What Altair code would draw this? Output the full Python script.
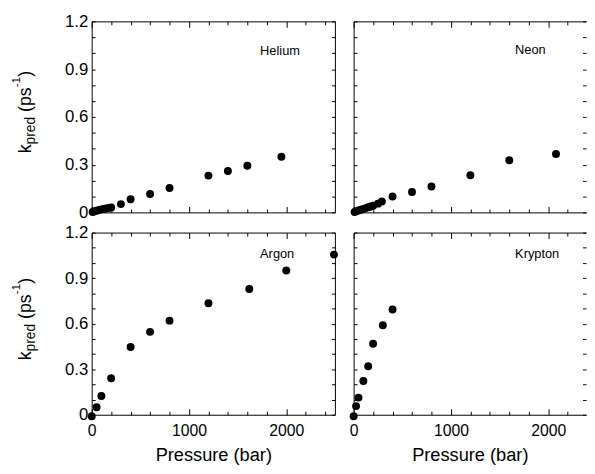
import altair as alt
import pandas as pd

FONT = "Liberation Sans"

# ---- data ----
he_p = [10, 30, 50, 75, 100, 125, 150, 175, 200, 300, 400, 600, 800, 1200, 1400, 1600, 1950]
he_k = [0.003, 0.007, 0.011, 0.015, 0.019, 0.022, 0.025, 0.028, 0.031, 0.052, 0.082, 0.115,
        0.153, 0.231, 0.26, 0.293, 0.35]

ne_p = [10, 25, 50, 75, 100, 125, 150, 175, 200, 250, 290, 400, 600, 800, 1200, 1600, 2080]
ne_k = [0.003, 0.007, 0.012, 0.017, 0.022, 0.027, 0.032, 0.037, 0.042, 0.055, 0.068, 0.10,
        0.128, 0.163, 0.233, 0.328, 0.367]

ar_p = [0, 50, 100, 200, 400, 600, 800, 1200, 1620, 2000, 2490]
ar_k = [-0.01, 0.05, 0.124, 0.24, 0.446, 0.546, 0.62, 0.735, 0.828, 0.95, 1.055]

kr_p = [0, 25, 50, 100, 150, 200, 300, 400]
kr_k = [-0.01, 0.057, 0.113, 0.222, 0.32, 0.468, 0.589, 0.693]

gas_names = ["Helium", "Neon", "Argon", "Krypton"]

x_ticks = list(range(0, 2500, 200))
x_labels = [0, 1000, 2000]
y_ticks = [round(i * 0.1, 1) for i in range(13)]
y_labels = [0, 0.3, 0.6, 0.9, 1.2]

x_title = "Pressure (bar)"
# y title pieces: (text, role)
y_title_parts = [("k", "main"), ("pred", "sub"), (" (ps", "main"), ("-1", "sup"), (")", "main")]

# ---- layout / style ----
W_LEFT = 247
W_RIGHT = 236
X_MAX_LEFT = 2500
X_MAX_RIGHT = 2500 * W_RIGHT / W_LEFT
H_TOP = 194
H_BOT = 185
MAIN_FS, SUB_FS, SUP_FS = 18, 14, 12
SHIFT = {"main": 0, "sub": 4, "sup": -10.5}
SIZE = {"main": MAIN_FS, "sub": SUB_FS, "sup": SUP_FS}
CHAR_W = {"k": 500, "p": 556, "r": 333, "e": 556, "d": 556, " ": 278, "(": 333,
          "s": 500, "-": 333, "1": 556, ")": 333}


def text_width(s, fs):
    return sum(CHAR_W.get(c, 556) for c in s) / 1000.0 * fs


ys = alt.Scale(domain=[0, 1.2], nice=False, zero=False)


def tick_axis(orient, offset, values, domain_on, major=False):
    if major:
        size = {"condition": {"test": "datum.value % 1000 === 0", "value": 6}, "value": 3.5}
    else:
        size = 3.5
    return alt.Axis(orient=orient, offset=offset, values=values, labels=False,
                    domain=domain_on, domainColor="black", domainWidth=1,
                    grid=False, ticks=True, tickSize=size, tickColor="black",
                    tickWidth=1, title=None, minExtent=0)


def panel(name, P, K, w, xmax, h, show_x, show_y, lab_x, lab_y, right_edge):
    xs = alt.Scale(domain=[0, xmax], nice=False, zero=False)
    df = pd.DataFrame({"P": P, "k": K})
    base = alt.Chart(df)
    if show_x:
        x_axis = alt.Axis(orient="bottom", values=x_labels, format="d", ticks=False,
                          domain=False, grid=False, labelFont=FONT, labelFontSize=16,
                          labelColor="black", labelPadding=8, labelFlush=False,
                          title=x_title, titleFont=FONT, titleFontSize=18.5,
                          titleFontWeight="normal", titleColor="black", titlePadding=7)
    else:
        x_axis = None
    if show_y:
        y_axis = alt.Axis(orient="left", values=y_labels, format=".1~f", ticks=False,
                          domain=False, grid=False, labelFont=FONT, labelFontSize=17,
                          labelColor="black", labelPadding=4, labelFlush=False, title=None)
    else:
        y_axis = None
    pts = base.mark_circle(size=65, color="black", opacity=1).encode(
        x=alt.X("P:Q", scale=xs, axis=x_axis),
        y=alt.Y("k:Q", scale=ys, axis=y_axis),
    )
    # inward ticks + frame on all four sides
    t1 = base.mark_circle(opacity=0).encode(
        x=alt.X("P:Q", scale=xs, axis=tick_axis("top", -h, x_ticks, True, True)),
        y=alt.Y("k:Q", scale=ys, axis=tick_axis("right", -w, y_ticks, True)),
    )
    t2 = base.mark_circle(opacity=0).encode(
        x=alt.X("P:Q", scale=xs, axis=tick_axis("bottom", -h, x_ticks, True, True)),
        y=alt.Y("k:Q", scale=ys, axis=tick_axis("left", -w, y_ticks, right_edge)),
    )
    one = alt.Data(values=[{}])
    label = alt.Chart(one).mark_text(text=name, font=FONT, fontSize=13, color="black",
                                     align="left", baseline="middle").encode(
        x=alt.value(lab_x), y=alt.value(lab_y))
    layers = [pts, t1, t2, label]
    if show_y:
        L = sum(text_width(t, SIZE[r]) for t, r in y_title_parts)
        start = 0.475 * h + L / 2
        cum = 0
        for t, r in y_title_parts:
            stripped = t.lstrip(" ")
            cum += text_width(t[: len(t) - len(stripped)], SIZE[r])
            layers.append(
                alt.Chart(one).mark_text(text=stripped, font=FONT, fontSize=SIZE[r],
                                         color="black", align="left",
                                         baseline="alphabetic", angle=270,
                                         dy=SHIFT[r]).encode(
                    x=alt.value(-62), y=alt.value(start - cum))
            )
            cum += text_width(stripped, SIZE[r])
    return alt.layer(*layers).resolve_axis(x="independent", y="independent").properties(
        width=w, height=h)


tl = panel(gas_names[0], he_p, he_k, W_LEFT, X_MAX_LEFT, H_TOP, False, True, 171, 30, True)
tr = panel(gas_names[1], ne_p, ne_k, W_RIGHT, X_MAX_RIGHT, H_TOP, False, False, 164, 29, False)
bl = panel(gas_names[2], ar_p, ar_k, W_LEFT, X_MAX_LEFT, H_BOT, True, True, 171, 21.5, True)
br = panel(gas_names[3], kr_p, kr_k, W_RIGHT, X_MAX_RIGHT, H_BOT, True, False, 164, 21.5, False)

chart = alt.concat(tl, tr, bl, br, columns=2, spacing={"row": 20.5, "column": 19},
                   bounds="flush").properties(
    padding={"left": 2, "top": 0, "right": 0, "bottom": 0}
).configure(background="white").configure_view(stroke="transparent")

chart.save("out.html", embed_options={"renderer": "svg", "actions": False})
